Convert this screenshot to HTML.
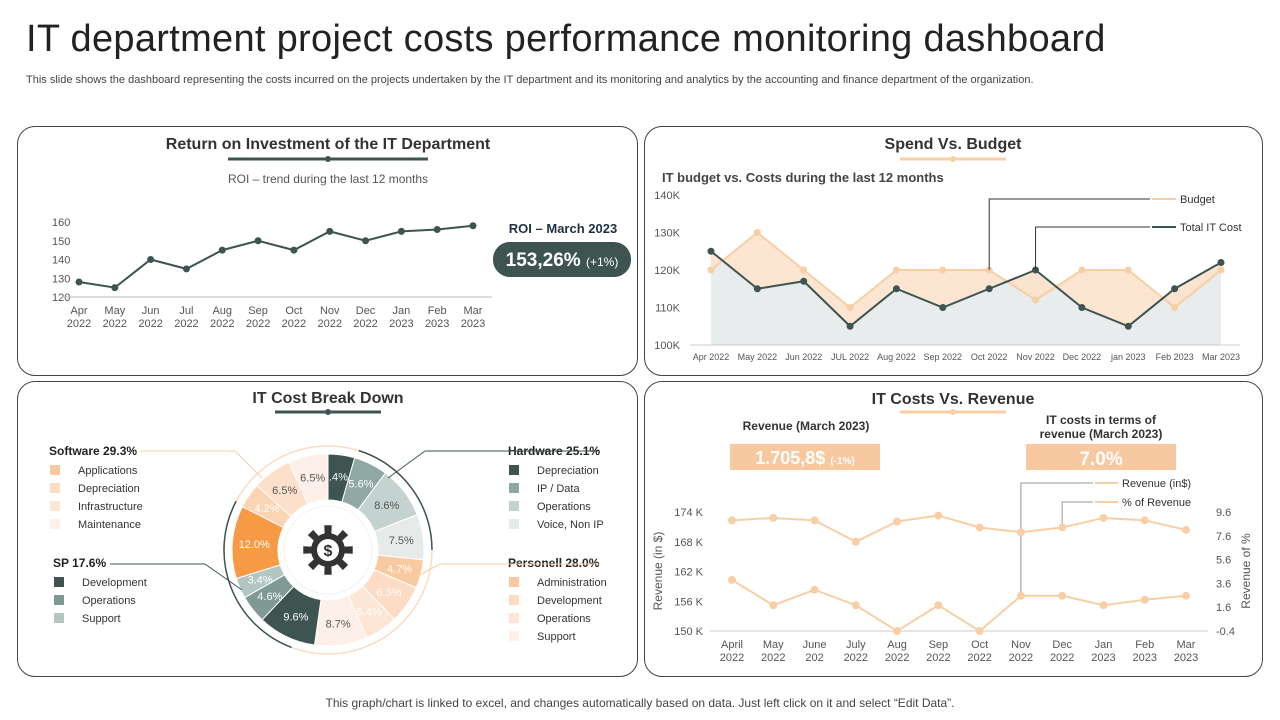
<!DOCTYPE html>
<html><head><meta charset="utf-8"><style>
body{margin:0;width:1280px;height:720px;background:#fff;font-family:"Liberation Sans",sans-serif;position:relative;overflow:hidden;color:#333}
.abs{position:absolute}
.panel{position:absolute;border:1px solid #444;border-radius:18px;box-sizing:border-box}
svg text{font-family:"Liberation Sans",sans-serif}
</style></head><body>
<div class="abs" style="left:26px;top:18px;font-size:38px;color:#222;letter-spacing:0.3px">IT department project costs performance monitoring dashboard</div>
<div class="abs" style="left:26px;top:74px;font-size:11px;color:#444">This slide shows the dashboard representing the costs incurred on the projects undertaken by the IT department and its monitoring and analytics by the accounting and finance department of the organization.</div>
<div class="panel" style="left:17px;top:126px;width:621px;height:250px"></div>
<div class="panel" style="left:644px;top:126px;width:619px;height:250px"></div>
<div class="panel" style="left:17px;top:381px;width:621px;height:296px"></div>
<div class="panel" style="left:644px;top:381px;width:619px;height:296px"></div>
<div class="abs" style="left:0;width:1280px;text-align:center;top:696px;font-size:12px;color:#444">This graph/chart is linked to excel, and changes automatically based on data. Just left click on it and select “Edit Data”.</div>
<svg id="s" width="1280" height="720" style="position:absolute;left:0;top:0">
<g font-size="16" font-weight="bold" fill="#333" text-anchor="middle">
<text x="328" y="149">Return on Investment of the IT Department</text>
<text x="953" y="149">Spend Vs. Budget</text>
<text x="328" y="403">IT Cost Break Down</text>
<text x="953" y="404">IT Costs  Vs. Revenue</text>
</g>
<line x1="228" y1="159" x2="428" y2="159" stroke="#3d5450" stroke-width="3"/><circle cx="328" cy="159" r="3" fill="#3d5450"/>
<line x1="900" y1="159" x2="1006" y2="159" stroke="#f8cfa5" stroke-width="3"/><circle cx="953" cy="159" r="3" fill="#f8cfa5"/>
<line x1="275" y1="412" x2="381" y2="412" stroke="#3d5450" stroke-width="3"/><circle cx="328" cy="412" r="3" fill="#3d5450"/>
<line x1="900" y1="412" x2="1006" y2="412" stroke="#f8cfa5" stroke-width="3"/><circle cx="953" cy="412" r="3" fill="#f8cfa5"/>
<text x="328" y="183" font-size="12" fill="#555" text-anchor="middle">ROI – trend during the last 12 months</text>
<text x="563" y="233" font-size="13" font-weight="bold" fill="#1e3040" text-anchor="middle">ROI – March 2023</text>
<rect x="493" y="242" width="138" height="35" rx="17" fill="#3d5450"/>
<text x="562" y="266" font-size="19" font-weight="bold" fill="#fff" text-anchor="middle">153,26% <tspan font-size="12" font-weight="normal">(+1%)</tspan></text>
<text x="662" y="182" font-size="13" font-weight="bold" fill="#444">IT budget vs. Costs  during the last 12 months</text>
<text x="806" y="430" font-size="12" font-weight="bold" fill="#333" text-anchor="middle">Revenue (March 2023)</text>
<rect x="730" y="444" width="150" height="26" fill="#f8c9a0"/>
<text x="805" y="464" font-size="18" font-weight="bold" fill="#fff" text-anchor="middle">1.705,8$ <tspan font-size="10">(-1%)</tspan></text>
<text x="1101" y="424" font-size="12" font-weight="bold" fill="#333" text-anchor="middle">IT costs in terms of</text>
<text x="1101" y="438" font-size="12" font-weight="bold" fill="#333" text-anchor="middle">revenue (March 2023)</text>
<rect x="1026" y="444" width="150" height="26" fill="#f8c9a0"/>
<text x="1101" y="465" font-size="19" font-weight="bold" fill="#fff" text-anchor="middle">7.0%</text>
<g id="roi"></g><g id="spend"></g><g id="donut"></g><g id="rev"></g>
</svg>
<script>
const months=["Apr","May","Jun","Jul","Aug","Sep","Oct","Nov","Dec","Jan","Feb","Mar"];
const years=["2022","2022","2022","2022","2022","2022","2022","2022","2022","2023","2023","2023"];
const roiValues=[128,125,140,135,145,150,145,155,150,155,156,158];
const roiTicks=[120,130,140,150,160];
const spendLabels=["Apr 2022","May 2022","Jun 2022","JUL 2022","Aug 2022","Sep 2022","Oct 2022","Nov 2022","Dec 2022","jan 2023","Feb 2023","Mar 2023"];
const budget=[120,130,120,110,120,120,120,112,120,120,110,120];
const totalCost=[125,115,117,105,115,110,115,120,110,105,115,122];
const spendTicks=[100,110,120,130,140];
const revMonths=["April","May","June","July","Aug","Sep","Oct","Nov","Dec","Jan","Feb","Mar"];
const revYears=["2022","2022","202","2022","2022","2022","2022","2022","2022","2023","2023","2023"];
const revenueK=[160.3,155.2,158.3,155.2,150,155.2,150,157.1,157.1,155.2,156.3,157.1];
const pctRevenue=[8.9,9.1,8.9,7.1,8.8,9.3,8.3,7.9,8.3,9.1,8.9,8.1];
const revTicks=[150,156,162,168,174];
const pctTicks=[-0.4,1.6,3.6,5.6,7.6,9.6];
const sliceValues=[4.4,5.6,8.6,7.5,4.7,6.3,5.4,8.7,9.6,4.6,3.4,12.0,4.2,6.5,6.5];
const sliceLabels=[".4%","5.6%","8.6%","7.5%","4.7%","6.3%","5.4%","8.7%","9.6%","4.6%","3.4%","12.0%","4.2%","6.5%","6.5%"];
const sliceColors=["#3d5450","#8fa8a3","#c5d3d0","#e6ebea","#f9c9a0","#fcdcc4","#fde6d5","#fdf0e8","#3d5450","#7f9a95","#b4c6c2","#f79a45","#fbd4b3","#fde0cb","#fdf0e8"];
const sliceText=["#fff","#fff","#555","#555","#fff","#fff","#fff","#555","#fff","#fff","#fff","#fff","#fff","#555","#555"];
const NS="http://www.w3.org/2000/svg";
function mk(p,t,a,txt){const e=document.createElementNS(NS,t);for(const k in a)e.setAttribute(k,a[k]);if(txt!==undefined)e.textContent=txt;p.appendChild(e);return e;}
// ROI
(function(){const g=document.getElementById('roi');
const x=i=>79+i*(473-79)/11,y=v=>297-(v-120)*(75/40);
roiTicks.forEach(t=>mk(g,'text',{x:52,y:y(t)+4,'font-size':11,fill:'#555'},t));
mk(g,'line',{x1:62,y1:297,x2:492,y2:297,stroke:'#bbb'});
months.forEach((m,i)=>{const l=mk(g,'text',{x:x(i),y:314,'font-size':11,fill:'#555','text-anchor':'middle'},m);mk(g,'text',{x:x(i),y:327,'font-size':11,fill:'#555','text-anchor':'middle'},years[i]);});
const l=mk(g,'polyline',{points:roiValues.map((v,i)=>x(i)+','+y(v)).join(' '),fill:'none',stroke:'#3d5450','stroke-width':2});

roiValues.forEach((v,i)=>{const c=mk(g,'circle',{cx:x(i),cy:y(v),r:3.5,fill:'#3d5450'});});
})();
// Spend
(function(){const g=document.getElementById('spend');
const x=i=>711+i*(1221-711)/11,y=v=>345-(v-100)*(150/40);
spendTicks.forEach(t=>mk(g,'text',{x:680,y:y(t)+4,'font-size':11,fill:'#555','text-anchor':'end'},t+'K'));
const base=x(0)+','+345;
const a2=mk(g,'polygon',{points:base+' '+totalCost.map((v,i)=>x(i)+','+y(v)).join(' ')+' '+x(11)+',345',fill:'#e8ecec'});

const a1=mk(g,'polygon',{points:totalCost.map((v,i)=>x(i)+','+y(v)).join(' ')+' '+budget.map((v,i)=>x(i)+','+y(v)).reverse().join(' '),fill:'#fde3cc',opacity:0.9});

// redraw cost area on top where cost>budget
mk(g,'line',{x1:690,y1:345,x2:1240,y2:345,stroke:'#ccc'});
spendLabels.forEach((m,i)=>mk(g,'text',{x:x(i),y:360,'font-size':9,fill:'#555','text-anchor':'middle'},m));
const b=mk(g,'polyline',{points:budget.map((v,i)=>x(i)+','+y(v)).join(' '),fill:'none',stroke:'#f8cfa5','stroke-width':2});

budget.forEach((v,i)=>{const c=mk(g,'circle',{cx:x(i),cy:y(v),r:3.5,fill:'#f8cfa5'});});
const t=mk(g,'polyline',{points:totalCost.map((v,i)=>x(i)+','+y(v)).join(' '),fill:'none',stroke:'#3d5450','stroke-width':2});

totalCost.forEach((v,i)=>{const c=mk(g,'circle',{cx:x(i),cy:y(v),r:3.5,fill:'#3d5450'});});
mk(g,'polyline',{points:x(6)+','+y(budget[6])+' '+x(6)+',199 1150,199',fill:'none',stroke:'#333','stroke-width':1});
mk(g,'polyline',{points:x(7)+','+y(totalCost[7])+' '+x(7)+',227 1150,227',fill:'none',stroke:'#333','stroke-width':1});
mk(g,'line',{x1:1152,y1:199,x2:1176,y2:199,stroke:'#f8cfa5','stroke-width':2});
mk(g,'line',{x1:1152,y1:227,x2:1176,y2:227,stroke:'#3d5450','stroke-width':2});
const l1=mk(g,'text',{x:1180,y:203,'font-size':11,fill:'#333'},'Budget');
const l2=mk(g,'text',{x:1180,y:231,'font-size':11,fill:'#333'},'Total IT Cost');
})();
// Donut
(function(){const g=document.getElementById('donut');
const cx=328,cy=550,R=96,r=50,tot=sliceValues.reduce((a,b)=>a+b,0);
mk(g,'circle',{cx:cx,cy:cy,r:104,fill:'none',stroke:'#f8dcc4','stroke-width':1.5});
mk(g,'path',{d:`M ${cx+104*Math.sin(0.3)} ${cy-104*Math.cos(0.3)} A 104 104 0 0 1 ${cx+104} ${cy}`,fill:'none',stroke:'#3d5450','stroke-width':1.5});
mk(g,'path',{d:`M ${cx+104*Math.sin(3.5)} ${cy-104*Math.cos(3.5)} A 104 104 0 0 1 ${cx+104*Math.sin(5.2)} ${cy-104*Math.cos(5.2)}`,fill:'none',stroke:'#3d5450','stroke-width':1.5});
let a=0;
sliceValues.forEach((v,i)=>{const a0=a/tot*2*Math.PI;a+=v;const a1=a/tot*2*Math.PI;const lg=(a1-a0)>Math.PI?1:0;
const p=(rr,an)=>(cx+rr*Math.sin(an))+' '+(cy-rr*Math.cos(an));
const s=mk(g,'path',{d:`M ${p(R,a0)} A ${R} ${R} 0 ${lg} 1 ${p(R,a1)} L ${p(r,a1)} A ${r} ${r} 0 ${lg} 0 ${p(r,a0)} Z`,fill:sliceColors[i],stroke:'#fff','stroke-width':1});

const am=(a0+a1)/2;mk(g,'text',{x:cx+74*Math.sin(am),y:cy-74*Math.cos(am)+4,'font-size':11,fill:sliceText[i],'text-anchor':'middle'},sliceLabels[i]);});
mk(g,'circle',{cx:cx,cy:cy,r:r,fill:'#fff'});
mk(g,'circle',{cx:cx,cy:cy,r:44,fill:'none',stroke:'#f2f2f2','stroke-width':1});
// gear
let d='';const n=8;for(let k=0;k<n;k++){const an=k/n*2*Math.PI;const an1=an-0.2,an2=an+0.2;const an3=an+0.39,an4=an+Math.PI*2/n-0.39;
d+=(k?'L':'M')+(cx+17*Math.sin(an1))+' '+(cy-17*Math.cos(an1))+' L'+(cx+25*Math.sin(an1+0.05))+' '+(cy-25*Math.cos(an1+0.05))+' L'+(cx+25*Math.sin(an2-0.05))+' '+(cy-25*Math.cos(an2-0.05))+' L'+(cx+17*Math.sin(an2))+' '+(cy-17*Math.cos(an2))+' A17 17 0 0 1 '+(cx+17*Math.sin(an+Math.PI*2/n-0.2))+' '+(cy-17*Math.cos(an+Math.PI*2/n-0.2));}
const gear=mk(g,'path',{d:d+'Z',fill:'#333'});
mk(g,'circle',{cx:cx,cy:cy,r:11,fill:'#fff'});
mk(g,'text',{x:cx,y:cy+6,'font-size':16,'font-weight':'bold',fill:'#333','text-anchor':'middle'},'$');
// legends
const leg=(x,y,title,items,cols,lx1,ly1,lx2,ly2,lc)=>{mk(g,'text',{x:x,y:y,'font-size':12,'font-weight':'bold',fill:'#222'},title);
items.forEach((it,k)=>{mk(g,'rect',{x:x+1,y:y+10+k*18,width:10,height:10,fill:cols[k]});const t=mk(g,'text',{x:x+29,y:y+19+k*18,'font-size':11,fill:'#333'},it);});
mk(g,'polyline',{points:`${lx1},${ly1} ${lx2},${ly1} ${lx2+0},${ly1}`,fill:'none',stroke:lc});mk(g,'line',{x1:lx2,y1:ly1,x2:ly2[0],y2:ly2[1],stroke:lc});};
leg(49,455,'Software 29.3%',['Applications','Depreciation','Infrastructure','Maintenance'],['#f9c9a0','#fcdcc4','#fde6d5','#fdf0e8'],140,451,235,[262,478],'#f8cfa5');
leg(53,567,'SP 17.6%',['Development','Operations','Support'],['#3d5450','#7f9a95','#b4c6c2'],110,564,205,[242,590],'#3d5450');
leg(508,455,'Hardware 25.1%',['Depreciation','IP / Data','Operations','Voice, Non IP'],['#3d5450','#8fa8a3','#c5d3d0','#e6ebea'],600,451,425,[388,478],'#3d5450');
leg(508,567,'Personell 28.0%',['Administration','Development','Operations','Support'],['#f9c9a0','#fcdcc4','#fde6d5','#fdf0e8'],600,564,440,[410,580],'#f8cfa5');
})();
// Revenue
(function(){const g=document.getElementById('rev');
const x=i=>732+i*(1186-732)/11,y=v=>631-(v-150)*(119/24),y2=v=>631-(v+0.4)*(119/10);
revTicks.forEach(t=>mk(g,'text',{x:703,y:y(t)+4,'font-size':11,fill:'#555','text-anchor':'end'},t+' K'));
pctTicks.forEach(t=>mk(g,'text',{x:1216,y:y2(t)+4,'font-size':11,fill:'#555'},t));
mk(g,'text',{x:0,y:0,'font-size':12,fill:'#555','text-anchor':'middle',transform:'translate(662,571) rotate(-90)'},'Revenue (in $)');
mk(g,'text',{x:0,y:0,'font-size':12,fill:'#555','text-anchor':'middle',transform:'translate(1250,571) rotate(-90)'},'Revenue of %');
mk(g,'line',{x1:710,y1:631,x2:1208,y2:631,stroke:'#ccc'});
revMonths.forEach((m,i)=>{mk(g,'text',{x:x(i),y:648,'font-size':11,fill:'#555','text-anchor':'middle'},m);mk(g,'text',{x:x(i),y:661,'font-size':11,fill:'#555','text-anchor':'middle'},revYears[i]);});
mk(g,'polyline',{points:x(7)+','+y(revenueK[7])+' '+x(7)+',483 1093,483',fill:'none',stroke:'#999'});
mk(g,'polyline',{points:x(8)+','+y2(pctRevenue[8])+' '+x(8)+',502 1093,502',fill:'none',stroke:'#999'});
mk(g,'line',{x1:1095,y1:483,x2:1118,y2:483,stroke:'#f8cfa5','stroke-width':2});
mk(g,'line',{x1:1095,y1:502,x2:1118,y2:502,stroke:'#f8cfa5','stroke-width':2});
mk(g,'text',{x:1122,y:487,'font-size':11,fill:'#333'},'Revenue (in$)');
mk(g,'text',{x:1122,y:506,'font-size':11,fill:'#333'},'% of Revenue');
const a=mk(g,'polyline',{points:revenueK.map((v,i)=>x(i)+','+y(v)).join(' '),fill:'none',stroke:'#f8cfa5','stroke-width':2});

const b=mk(g,'polyline',{points:pctRevenue.map((v,i)=>x(i)+','+y2(v)).join(' '),fill:'none',stroke:'#f8cfa5','stroke-width':2});

revenueK.forEach((v,i)=>{const c=mk(g,'circle',{cx:x(i),cy:y(v),r:4,fill:'#f8cfa5'});});
pctRevenue.forEach((v,i)=>{const c=mk(g,'circle',{cx:x(i),cy:y2(v),r:4,fill:'#f8cfa5'});});
})();
</script>
</body></html>
